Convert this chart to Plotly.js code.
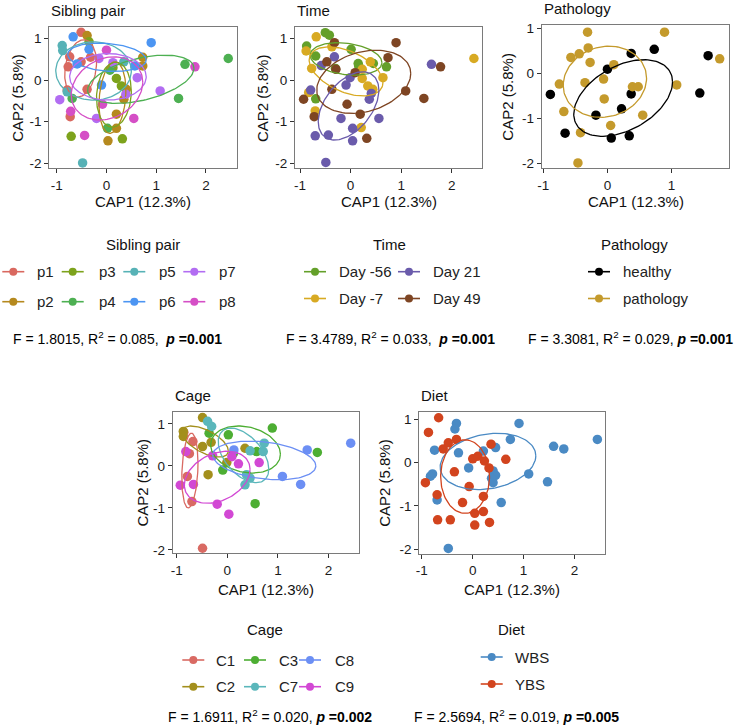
<!DOCTYPE html>
<html><head><meta charset="utf-8">
<script src="https://cdn.plot.ly/plotly-3.0.1.min.js"></script>
<style>html,body{margin:0;padding:0;background:#fff}#chart{width:736px;height:726px}</style>
</head><body><div id="chart"></div>
<script>
// ---------------- DATA ----------------
// Sibling pair
const sibGroups = ['p1','p2','p3','p4','p5','p6','p7','p8'];
const sibColors = ['#D9685F','#B5891E','#7DA31C','#4DB052','#57B2B6','#4C95F2','#B26DF2','#D54FC6'];
const sibX = [
  [-0.51,-0.74,-0.77,-0.51,-0.32,-0.79,-0.39,-0.73],
  [-0.39,0.73,0.73,0.40,0.35,0.20,0.20,0.03],
  [-0.35,0.20,0.30,-0.71,0.32,0.13],
  [1.58,2.45,0.07,1.45,-0.69,0.02],
  [-0.89,-0.88,0.35,-0.48,-0.79],
  [-0.67,0.90,-0.35,-0.59,0.57,-0.10],
  [-0.15,0.13,0.62,1.08,-0.94,0.39,-0.20],
  [0.00,1.78,-0.08,-0.72,0.55,-0.44]
];
const sibY = [
  [1.15,0.56,0.32,0.44,0.55,-0.24,-0.22,-0.88],
  [1.07,0.55,0.34,-0.22,-0.46,-0.82,-1.16,-1.46],
  [0.92,0.04,-0.14,-1.35,-1.41,0.30],
  [0.38,0.52,0.24,-0.44,-0.44,-1.16],
  [0.83,0.71,0.44,-1.99,-0.28],
  [1.04,0.90,0.74,0.39,0.34,-0.12],
  [0.52,0.42,0.06,-0.26,-0.47,-0.34,-0.92],
  [0.72,0.32,-0.58,-0.75,-0.92,-1.33]
];
// ellipses: [cx, cy, sx, sy, r]
const sibEll = [
  [-0.52,0.28,0.32,0.69,0.2],[0.12,-0.42,0.27,0.86,0.2],[0.15,-0.35,0.35,0.78,0.1],[0.69,0.02,1.07,0.58,0.45],
  [-0.26,0.22,0.76,0.70,0.0],[0.01,0.55,0.79,0.34,-0.2],[0.03,0.08,0.77,0.56,0.0],[0.01,-0.20,0.72,0.76,0.2]
];

// Time
const timeGroups = ['Day -56','Day -7','Day 21','Day 49'];
const timeColors = ['#64A02A','#D8AA23','#6A5BAB','#7E4523'];
const timeX = [
  [-0.50,-0.42,-0.87,-0.69,0.01,0.15,0.16,0.45,0.71,-0.69,-0.30],
  [-0.68,-0.88,-0.37,-0.77,0.23,0.23,0.64,0.34,0.44,-0.83,-0.70,0.21,2.44,0.39],
  [-0.32,-0.58,1.60,-0.01,-0.09,-0.79,0.41,0.37,0.56,-0.19,0.04,-0.70,-0.44,0.04,-0.49],
  [-0.32,0.90,0.74,-0.47,-0.29,0.09,1.78,-0.37,1.09,1.45,-0.93,-0.07,0.19,-0.72,0.32]
];
const timeY = [
  [1.14,1.08,0.82,0.58,0.74,0.40,0.34,0.40,0.32,-0.45,0.28],
  [1.04,0.70,0.80,0.28,0.26,0.04,0.06,-0.14,-0.22,-0.30,-0.74,-1.14,0.52,0.44],
  [0.56,0.35,0.38,0.06,-0.12,-0.24,-0.32,-0.46,-0.92,-0.92,-1.16,-1.34,-1.32,-1.46,-1.98],
  [0.90,0.90,0.54,0.44,0.26,0.18,0.32,-0.22,-0.26,-0.44,-0.46,-0.58,-0.82,-0.88,-1.40]
];
const timeEll = [
  [-0.09,0.51,0.71,0.39,-0.23],[-0.09,0.21,0.73,0.59,-0.46],[-0.04,-0.62,0.60,0.82,0.46],[0.26,-0.04,0.93,0.76,0.26]
];

// Pathology
const pathGroups = ['healthy','pathology'];
const pathColors = ['#000000','#C49A2C'];
const pathX = [
  [0.37,0.73,1.57,0.00,-0.89,0.37,1.44,0.22,-0.18,-0.66,0.06,0.34],
  [-0.31,0.89,-0.30,-0.44,-0.57,-0.27,0.10,-0.75,-0.35,-0.06,0.39,0.48,1.08,1.75,-0.05,-0.68,0.55,0.05,-0.42,-0.46]
];
const pathY = [
  [0.44,0.53,0.39,0.09,-0.47,-0.46,-0.44,-0.79,-0.93,-1.33,-1.44,-1.39],
  [0.91,0.91,0.56,0.43,0.35,0.24,0.19,-0.24,-0.21,-0.13,-0.30,-0.30,-0.26,0.32,-0.57,-0.85,-0.93,-1.16,-1.32,-1.99]
];
const pathEll = [[0.245,-0.55,0.77,0.85,0.42],[-0.04,-0.19,0.65,0.79,0.1]];

// Cage
const cageGroups = ['C1','C2','C3','C7','C8','C9'];
const cageColors = ['#D96A63','#A38F1C','#4DAE33','#5BB7BB','#6C8FF4','#D248D4'];
const cageX = [
  [-0.86,-0.68,-0.75,-0.79,-0.70,-0.49],
  [-0.49,-0.87,-0.87,-0.32,-0.49,0.35,-0.38,-0.01],
  [-0.36,0.02,0.89,0.58,1.78,-0.09,0.55,0.12],
  [-0.39,-0.31,0.45,0.73,0.71,0.38,0.45,0.35],
  [2.44,1.58,1.09,1.45,0.13],
  [-0.82,-0.93,-0.67,-0.29,0.09,0.22,0.63,-0.20,0.03]
];
const cageY = [
  [0.80,0.58,0.29,-0.25,-0.85,-1.96],
  [1.15,0.82,0.70,0.56,0.46,0.42,-0.21,0.08],
  [0.78,0.74,0.90,0.34,0.32,-0.10,-0.90,0.30],
  [1.06,0.94,0.36,0.54,0.34,-0.21,-0.29,-0.45],
  [0.54,0.38,-0.25,-0.44,0.38],
  [0.34,-0.46,-0.44,0.24,0.22,0.05,0.08,-0.91,-1.15]
];
const cageEll = [
  [-0.74,-0.11,0.16,0.89,0.2],[-0.44,0.58,0.46,0.37,-0.6],[0.36,0.39,0.69,0.56,-0.2],
  [0.32,0.25,0.50,0.65,-0.5],[0.73,0.13,1.02,0.46,-0.28],[-0.20,-0.27,0.65,0.62,0.3]
];

// Diet
const dietGroups = ['WBS','YBS'];
const dietColors = ['#4A8AC4','#D2441E'];
const dietX = [
  [-0.32,-0.35,0.91,0.74,2.45,1.59,1.79,-0.75,-0.28,0.21,0.45,-0.08,-0.79,-0.83,0.40,0.45,0.37,0.40,1.10,1.47,0.56,-0.70,-0.48],
  [-0.67,-0.87,-0.58,-0.48,-0.32,0.36,0.00,0.10,0.23,0.65,-0.36,0.32,-0.07,-0.93,-0.70,0.21,-0.20,0.04,0.21,-0.69,-0.44,0.04,0.33]
];
const dietY = [
  [0.91,0.78,0.91,0.54,0.54,0.38,0.32,0.29,0.23,0.27,0.35,-0.12,-0.26,-0.31,-0.19,-0.29,-0.36,-0.46,-0.26,-0.44,-0.92,-0.86,-1.98],
  [1.04,0.70,0.32,0.46,0.54,0.43,0.09,0.15,0.04,0.08,-0.21,-0.12,-0.55,-0.46,-0.74,-0.78,-0.92,-1.17,-1.13,-1.32,-1.32,-1.44,-1.38]
];
const dietEll = [[0.30,0.03,0.94,0.65,0.2],[-0.15,-0.32,0.48,0.85,0.0]];

const statTexts = [
  'F = 1.8015, R<sup>2</sup> = 0.085,  <b><i>p</i> =0.001</b>',
  'F = 3.4789, R<sup>2</sup> = 0.033,  <b><i>p</i> =0.001</b>',
  'F = 3.3081, R<sup>2</sup> = 0.029, <b><i>p</i> =0.001</b>',
  'F = 1.6911, R<sup>2</sup> = 0.020, <b><i>p</i> =0.002</b>',
  'F = 2.5694, R<sup>2</sup> = 0.019, <b><i>p</i> =0.005</b>'
];

// ---------------- LAYOUT HELPERS ----------------
const W = 736, H = 726;
const px = v => v / W;
const py = v => 1 - v / H;
const FONT = 'Liberation Sans, Arial, Helvetica, sans-serif';

function ellPath(e) {
  const [cx, cy, sx, sy, r] = e;
  const xs = [], ys = [], q = Math.sqrt(1 - r * r);
  for (let i = 0; i <= 120; i++) {
    const t = 2 * Math.PI * i / 120;
    xs.push(cx + sx * Math.cos(t));
    ys.push(cy + sy * (r * Math.cos(t) + q * Math.sin(t)));
  }
  return {xs, ys};
}

const panels = [
  {title:'Sibling pair', groups:sibGroups, colors:sibColors, X:sibX, Y:sibY, E:sibEll,
   box:[49.3,236.7,27.3,168.3], xr:[-1.15,2.62], yr:[-2.12,1.27], xt:[-1,0,1,2], titleY:10, capX:18, capY1:201.7,
   stat:{x:117.5,y:338,anchor:'center'}},
  {title:'Time', groups:timeGroups, colors:timeColors, X:timeX, Y:timeY, E:timeEll,
   box:[295,482,27.3,168.3], xr:[-1.10,2.60], yr:[-2.12,1.27], xt:[-1,0,1,2], titleY:10, capX:263.3, capY1:201.7,
   stat:{x:390,y:338,anchor:'center'}},
  {title:'Pathology', groups:pathGroups, colors:pathColors, X:pathX, Y:pathY, E:pathEll,
   box:[541.7,729.3,25,168.3], xr:[-1.025,1.90], yr:[-2.11,1.07], xt:[-1,0,1], titleY:9, capX:508, capY1:201.7,
   stat:{x:735,y:338,anchor:'right'}},
  {title:'Cage', groups:cageGroups, colors:cageColors, X:cageX, Y:cageY, E:cageEll,
   box:[172.7,359.3,411.7,553.3], xr:[-1.08,2.61], yr:[-2.08,1.29], xt:[-1,0,1,2], titleY:395, capX:142, capY1:589,
   stat:{x:269.5,y:716,anchor:'center'}},
  {title:'Diet', groups:dietGroups, colors:dietColors, X:dietX, Y:dietY, E:dietEll,
   box:[419.3,605,411.7,554], xr:[-1.05,2.60], yr:[-2.11,1.18], xt:[-1,0,1,2], titleY:395, capX:385, capY1:589,
   stat:{x:516.5,y:716,anchor:'center'}}
];

// legend layouts (pixel positions of keys): [circleX, textX, rowY]
const legendDefs = [
  {title:'Sibling pair', tx:142.7, ty:244, colors:sibColors, labels:sibGroups,
   keys:[[13.3,35,271.7],[13.3,35,301.7],[72.7,96.7,271.7],[72.7,96.7,301.7],[134.3,156.7,271.7],[134.3,156.7,301.7],[194.3,216.7,271.7],[194.3,216.7,301.7]]},
  {title:'Time', tx:389, ty:244, colors:timeColors, labels:timeGroups,
   keys:[[315,336.7,271.7],[315,336.7,298.5],[409,430.7,271.7],[409,430.7,298.5]]},
  {title:'Pathology', tx:634, ty:244, colors:pathColors, labels:pathGroups,
   keys:[[599,621,271.7],[599,621,298.5]]},
  {title:'Cage', tx:265, ty:629, colors:cageColors, labels:cageGroups,
   keys:[[193.3,214,660],[193.3,214,686.7],[255,276.7,660],[255,276.7,686.7],[310,332.7,660],[310,332.7,686.7]]},
  {title:'Diet', tx:511.7, ty:629, colors:dietColors, labels:dietGroups,
   keys:[[491.7,513.3,657],[491.7,513.3,684]]}
];

const traces = [], annotations = [], shapes = [];
const layout = {
  width: W, height: H, margin:{l:0,r:0,t:0,b:0},
  paper_bgcolor:'#fff', plot_bgcolor:'#fff', showlegend:false,
  font:{family:FONT, color:'#1a1a1a'}
};

panels.forEach((p, i) => {
  const n = i + 1;
  const xa = 'x' + (n === 1 ? '' : n), ya = 'y' + (n === 1 ? '' : n);
  const xkey = 'xaxis' + (n === 1 ? '' : n), ykey = 'yaxis' + (n === 1 ? '' : n);
  const [l, r, t, b] = p.box;
  const common = {showgrid:false, zeroline:false, showline:true, mirror:true, linecolor:'#7a7a7a', linewidth:1,
    ticks:'outside', ticklen:4, tickwidth:1, tickcolor:'#333', tickfont:{size:13.5, color:'#1a1a1a', family:FONT}, fixedrange:true};
  layout[xkey] = Object.assign({}, common, {domain:[px(l), px(r)], range:p.xr, tickvals:p.xt, ticktext:p.xt.map(String), anchor:ya});
  layout[ykey] = Object.assign({}, common, {domain:[py(b), py(t)], range:p.yr, tickvals:[-2,-1,0,1], ticktext:['-2','-1','0','1'], anchor:xa});
  p.groups.forEach((g, k) => {
    traces.push({type:'scatter', mode:'markers', x:p.X[k], y:p.Y[k], xaxis:xa, yaxis:ya, name:g,
      marker:{size:9.5, color:p.colors[k], line:{width:0}}, hoverinfo:'skip'});
  });
  p.groups.forEach((g, k) => {
    const e = ellPath(p.E[k]);
    traces.push({type:'scatter', mode:'lines', x:e.xs, y:e.ys, xaxis:xa, yaxis:ya, name:g,
      line:{color:p.colors[k], width:1.3}, hoverinfo:'skip'});
  });
  annotations.push({xref:'paper', yref:'paper', x:px(l), y:py(p.titleY), xanchor:'left', yanchor:'middle',
    text:p.title, showarrow:false, font:{size:15, color:'#111'}});
  annotations.push({xref:'paper', yref:'paper', x:px((l + r) / 2), y:py(p.capY1), xanchor:'center', yanchor:'middle',
    text:'CAP1 (12.3%)', showarrow:false, font:{size:15, color:'#111'}});
  annotations.push({xref:'paper', yref:'paper', x:px(p.capX), y:py((t + b) / 2), xanchor:'center', yanchor:'middle',
    text:'CAP2 (5.8%)', textangle:-90, showarrow:false, font:{size:15, color:'#111'}});
  annotations.push({xref:'paper', yref:'paper', x:px(p.stat.x), y:py(p.stat.y), xanchor:p.stat.anchor, yanchor:'middle',
    text:statTexts[i], showarrow:false, font:{size:14, color:'#000', family:FONT}});
});

legendDefs.forEach(L => {
  annotations.push({xref:'paper', yref:'paper', x:px(L.tx), y:py(L.ty), xanchor:'center', yanchor:'middle',
    text:L.title, showarrow:false, font:{size:15, color:'#111'}});
  L.keys.forEach((kk, j) => {
    const [cxp, txp, ry] = kk;
    shapes.push({type:'line', xref:'paper', yref:'paper', x0:px(cxp - 11), x1:px(cxp + 11), y0:py(ry), y1:py(ry),
      line:{color:L.colors[j], width:1.6}});
    shapes.push({type:'circle', xref:'paper', yref:'paper', x0:px(cxp - 4), x1:px(cxp + 4), y0:py(ry + 4), y1:py(ry - 4),
      fillcolor:L.colors[j], line:{width:0}});
    annotations.push({xref:'paper', yref:'paper', x:px(txp), y:py(ry), xanchor:'left', yanchor:'middle',
      text:L.labels[j], showarrow:false, font:{size:15, color:'#222'}});
  });
});

layout.annotations = annotations;
layout.shapes = shapes;
Plotly.newPlot('chart', traces, layout, {staticPlot:true, displayModeBar:false});
</script>
</body></html>
